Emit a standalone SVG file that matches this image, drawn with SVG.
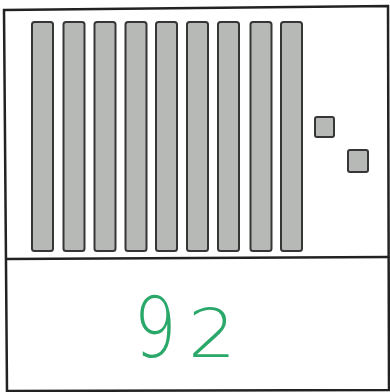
<svg xmlns="http://www.w3.org/2000/svg" width="390" height="392" viewBox="0 0 390 392">
<style>
.frame{fill:#fff;stroke:#222;stroke-width:2.5}
.line{stroke:#222;stroke-width:2.5;fill:none}
.rod{fill:#b6b9b6;stroke:#363636;stroke-width:2}
.unit{fill:#b6b9b6;stroke:#363636;stroke-width:2}
.num{font-family:"DejaVu Sans",sans-serif;font-weight:200;font-size:84px;fill:#2aa86a;text-anchor:middle}
</style>
<rect width="390" height="392" fill="#fff"/>
<g id="frame">
<polygon class="frame" points="4,10 388,6 389,390 7,391"/>
<line class="line" x1="6" y1="259" x2="388" y2="257"/>
</g>
<g id="tens">
<rect class="rod" x="32" y="22" width="21" height="229" rx="2.5"/>
<rect class="rod" x="63.5" y="22" width="21" height="229" rx="2.5"/>
<rect class="rod" x="94.5" y="22" width="21" height="229" rx="2.5"/>
<rect class="rod" x="125.5" y="22" width="21" height="229" rx="2.5"/>
<rect class="rod" x="156" y="22" width="21" height="229" rx="2.5"/>
<rect class="rod" x="187" y="22" width="21" height="229" rx="2.5"/>
<rect class="rod" x="218" y="22" width="21" height="229" rx="2.5"/>
<rect class="rod" x="250.5" y="22" width="21" height="229" rx="2.5"/>
<rect class="rod" x="281" y="22" width="21" height="229" rx="2.5"/>
</g>
<g id="ones">
<rect class="unit" x="315" y="117" width="19" height="20" rx="2"/>
<rect class="unit" x="348" y="150" width="20" height="22" rx="2"/>
</g>
<g id="answer">
<text class="num" transform="translate(155 357) scale(0.8 1)">9</text>
<text class="num" transform="translate(212 357) scale(0.9 0.8)">2</text>
</g>
</svg>
